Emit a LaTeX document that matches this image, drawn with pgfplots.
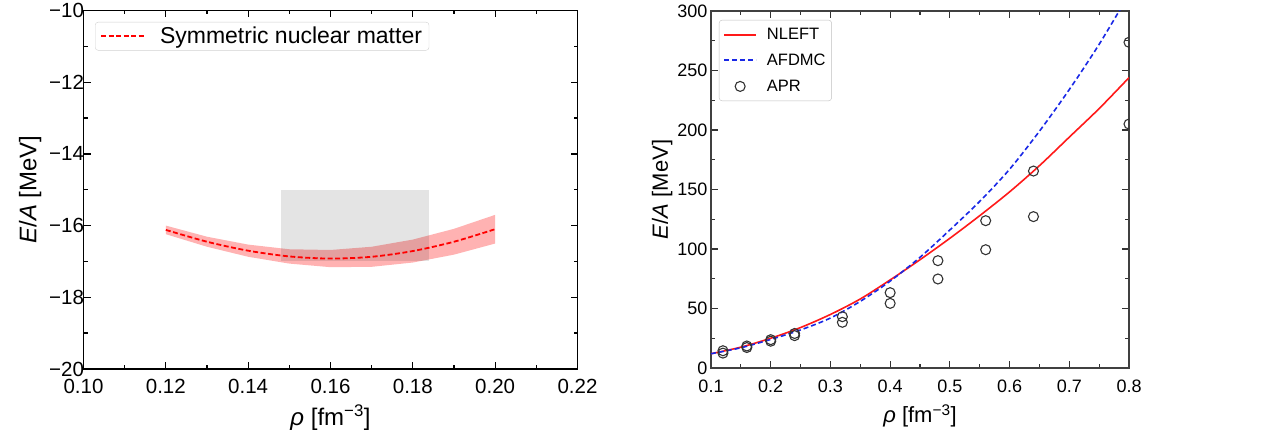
\documentclass[border=0pt]{standalone}
\usepackage{fontspec}
\setmainfont{Liberation Sans}
\usepackage{pgfplots}
\pgfplotsset{compat=1.18}

\definecolor{nleft}{RGB}{255,25,25}
\definecolor{afdmc}{RGB}{25,40,230}

% symmetric nuclear matter: central line
\pgfplotstableread{
rho    mid
0.12  -16.12
0.13  -16.45
0.14  -16.70
0.15  -16.86
0.16  -16.92
0.17  -16.87
0.18  -16.71
0.19  -16.45
0.20  -16.10
}\snm

% band outline: upper edge left to right, then lower edge back
\pgfplotstableread{
rho    ea
0.120 -16.00
0.130 -16.31
0.140 -16.53
0.150 -16.66
0.160 -16.68
0.170 -16.59
0.180 -16.39
0.190 -16.09
0.200 -15.70
0.200 -16.50
0.190 -16.81
0.180 -17.03
0.170 -17.15
0.160 -17.16
0.150 -17.06
0.140 -16.87
0.130 -16.59
0.120 -16.24
}\band

\pgfplotstableread{
rho   nleft  afdmc
0.10   12     12
0.15   17.5   17
0.20   25     24
0.25   34     32
0.30   45     42
0.35   58     56
0.40   74     73
0.45   91     93
0.50  109    116
0.55  128    140
0.60  148    167
0.65  170    199
0.70  194    234
0.75  218    272
0.80  244    314
}\pnm

\pgfplotstableread{
rho   ea
0.12  14.5
0.12  12.5
0.16  18.5
0.16  17.2
0.20  23.8
0.20  22.5
0.24  29.0
0.24  27.2
0.32  43.1
0.32  38.4
0.40  63.3
0.40  54.3
0.48  90.2
0.48  74.8
0.56 123.8
0.56  99.4
0.64 165.5
0.64 127.2
0.80 273.7
0.80 205.0
}\apr

\begin{document}
\begin{tikzpicture}
\path[use as bounding box] (0,0) rectangle (1268pt,438pt);

\begin{axis}[
  at={(83.5pt,69pt)}, anchor=south west,
  width=494pt, height=358.5pt, scale only axis,
  xmin=0.10, xmax=0.22, ymin=-20, ymax=-10,
  xtick={0.10,0.12,0.14,0.16,0.18,0.20,0.22},
  xticklabels={0.10,0.12,0.14,0.16,0.18,0.20,0.22},
  ytick={-20,-18,-16,-14,-12,-10},
  yticklabels={−20,−18,−16,−14,−12,−10},
  minor x tick num=1, minor y tick num=1,
  tick align=inside,
  major tick length=7pt, minor tick length=4pt,
  axis line style={line width=1.6pt},
  every tick/.style={black, line width=1.3pt},
  tick label style={font=\fontsize{20.5}{24}\selectfont},
  xticklabel style={yshift=-7pt},
  yticklabel style={xshift=4pt},
  xlabel={\textit{ρ} [fm\textsuperscript{−3}]},
  ylabel={\textit{E}/\textit{A} [MeV]},
  label style={font=\fontsize{24}{28}\selectfont},
  xlabel style={at={(axis description cs:0.5,0)}, anchor=north, yshift=-32pt},
  ylabel style={at={(axis description cs:-0.108,0.5)}, anchor=center},
  legend style={at={(0.0233,0.968)}, anchor=north west, draw=black!18,
    rounded corners=3pt, fill=white, font=\fontsize{23}{27}\selectfont,
    inner xsep=5pt, inner ysep=3pt, cells={anchor=west}},
  legend image code/.code={\draw[mark repeat=2,mark phase=2,#1] plot coordinates {(0pt,0pt) (22pt,0pt) (44pt,0pt)}; \path (56pt,0pt);},
]
\addplot[fill=red, fill opacity=0.3, draw=none, forget plot] table[x=rho, y=ea] {\band};
\addplot[fill=black, fill opacity=0.105, draw=none, forget plot]
  coordinates {(0.148,-17) (0.184,-17) (0.184,-15) (0.148,-15)};
\addplot[red, line width=1.8pt, dash pattern=on 5pt off 2.5pt, smooth] table[x=rho, y=mid] {\snm};
\addlegendentry{Symmetric nuclear matter}
\end{axis}

\begin{axis}[
  at={(711pt,70pt)}, anchor=south west,
  width=418pt, height=357pt, scale only axis,
  xmin=0.1, xmax=0.8, ymin=0, ymax=300,
  xtick={0.1,0.2,0.3,0.4,0.5,0.6,0.7,0.8},
  ytick={0,50,100,150,200,250,300},
  /pgf/number format/assume math mode=true,
  minor x tick num=1, minor y tick num=1,
  tick align=inside,
  major tick length=7pt, minor tick length=4pt,
  axis line style={line width=1.3pt, black!75},
  every tick/.style={black!80, line width=1.2pt},
  tick label style={font=\fontsize{18}{22}\selectfont},
  xticklabel style={yshift=-8pt},
  xlabel={\textit{ρ} [fm\textsuperscript{−3}]},
  ylabel={\textit{E}/\textit{A} [MeV]},
  label style={font=\fontsize{22}{26}\selectfont},
  xlabel style={at={(axis description cs:0.5,0)}, anchor=north, yshift=-33pt},
  ylabel style={at={(axis description cs:-0.117,0.5)}, anchor=center},
  clip marker paths=true,
  legend style={at={(0.019,0.975)}, anchor=north west, draw=black!25,
    rounded corners=3pt, fill=white, font=\fontsize{16.5}{20}\selectfont,
    inner xsep=4pt, inner ysep=6pt, row sep=9pt, cells={anchor=west}},
  legend image code/.code={\draw[mark repeat=2,mark phase=2,#1,line width=2pt] plot coordinates {(0pt,0pt) (16pt,0pt) (32pt,0pt)}; \path (40pt,0pt);},
]
\addplot[nleft, line width=1.6pt, smooth] table[x=rho, y=nleft] {\pnm};
\addlegendentry{NLEFT}
\addplot[afdmc, line width=1.6pt, dash pattern=on 5pt off 3pt, smooth] table[x=rho, y=afdmc] {\pnm};
\addlegendentry{AFDMC}
\addplot[only marks, mark=o, mark size=5pt, black!80, mark options={line width=1.1pt}] table[x=rho, y=ea] {\apr};
\addlegendentry{APR}
\end{axis}
\end{tikzpicture}
\end{document}
